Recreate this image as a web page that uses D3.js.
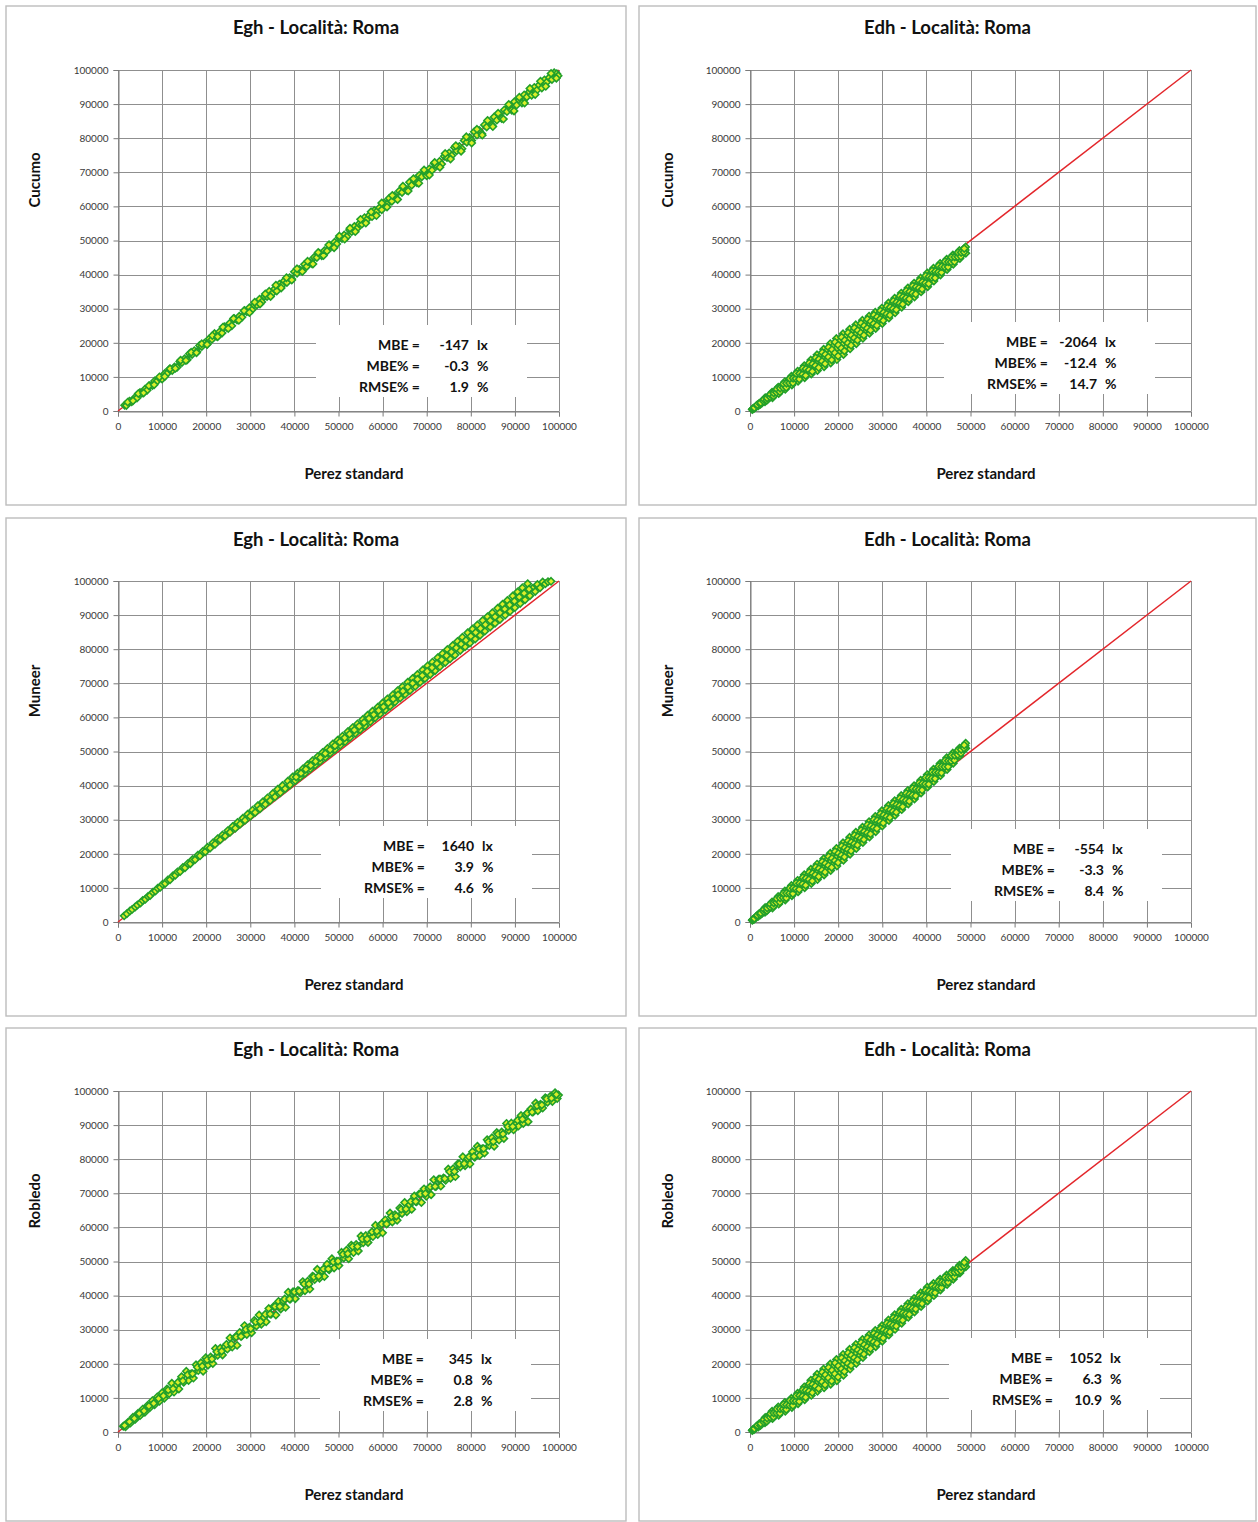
<!DOCTYPE html>
<html>
<head>
<meta charset="utf-8">
<script src="https://cdn.jsdelivr.net/npm/d3@7"></script>
<style>
    body { margin: 0; background: #fff; }
    svg text { font-family: Lato, "Open Sans", sans-serif; }
    .tick text { fill: #3a3a3a; font-size: 10px; }
    .plot-title { font-size: 18.5px; font-weight: bold; fill: #111; }
    .axis-title { font-size: 15px; font-weight: bold; fill: #111; }
    .stat { font-size: 14px; font-weight: bold; fill: #111; }
</style>
</head>
<body>
<svg id="chart" width="1258" height="1522"></svg>
<script>
const columnTitles = ["Egh - Località: Roma", "Edh - Località: Roma"];
const modelNames = ["Cucumo", "Muneer", "Robledo"];
const xAxisTitle = "Perez standard";
const tickValues = [0, 10000, 20000, 30000, 40000, 50000, 60000, 70000, 80000, 90000, 100000];
const statLabels = ["MBE =", "MBE% =", "RMSE% ="];
const statUnits = ["lx", "%", "%"];
const statValues = [
    ["-147", "-0.3", "1.9"],
    ["-2064", "-12.4", "14.7"],
    ["1640", "3.9", "4.6"],
    ["-554", "-3.3", "8.4"],
    ["345", "0.8", "2.8"],
    ["1052", "6.3", "10.9"]
];

// [Perez standard, model] in lx
const eghCucumo = [[1500,1700],[1900,1600],[2600,2900],[3100,2700],[3800,3900],[4300,3800],[5000,5400],[5400,5200],[6100,6400],[6600,6100],[7200,7400],[7800,7500],[8300,8800],[8900,8800],[9400,9700],[10000,9400],[10600,11000],[11100,10900],[11700,12300],[12300,11900],[12800,12900],[13400,12800],[14000,14500],[14500,14200],[15100,15300],[15700,15000],[16200,16800],[16800,16600],[17300,17700],[17900,17400],[18500,19200],[19000,18900],[19600,19900],[20200,19600],[20700,21200],[21300,21000],[21900,22700],[22400,21900],[23000,23200],[23600,22900],[24100,24700],[24700,24500],[25300,25700],[25800,25000],[26400,27100],[27000,26700],[27500,27800],[28100,27500],[28700,29500],[29200,29100],[29800,30300],[30400,29700],[30900,31100],[31500,31100],[32100,32800],[32600,32000],[33200,33600],[33800,33600],[34300,35100],[34900,34400],[35500,35800],[36000,35200],[36600,37200],[37200,36900],[37700,38200],[38300,37700],[38900,39100],[39400,38700],[40000,40800],[40600,40400],[41100,41500],[41700,41100],[42300,43000],[42800,42400],[43400,43700],[44000,43200],[44500,45100],[45100,45000],[45700,46200],[46200,45500],[46800,47000],[47400,46900],[47900,48700],[48500,48200],[49100,49500],[49600,49000],[50200,50900],[50800,50600],[51300,51600],[51900,51100],[52500,53100],[53000,52600],[53600,54100],[54200,53500],[54700,54900],[55300,54800],[55900,56700],[56400,56100],[57000,57400],[57600,57000],[58100,58800],[58700,58500],[59300,59600],[59800,59000],[60400,61000],[61000,60600],[61500,62400],[62100,61500],[62700,63100],[63200,62300],[63800,64500],[64400,64100],[64900,65400],[65500,64700],[66100,67100],[66600,66200],[67200,67500],[67800,66900],[68300,69100],[68900,68700],[69500,70100],[70000,69000],[70600,71000],[71200,70600],[71700,72600],[72300,71900],[72900,73200],[73400,72400],[74000,74700],[74600,74300],[75100,75700],[75700,74900],[76300,77300],[76800,76300],[77400,77600],[78000,76900],[78500,79300],[79100,78800],[79700,80200],[80200,79300],[80800,81900],[81400,80900],[81900,82300],[82500,81300],[83100,83900],[83600,83300],[84200,84800],[84800,83800],[85300,86200],[85900,85300],[86500,86800],[87000,85800],[87600,88300],[88200,87800],[88700,89200],[89300,88200],[89900,90700],[90400,89700],[91000,91200],[91600,90300],[92100,92700],[92700,92100],[93300,93600],[93800,92600],[94400,94900],[95000,94100],[95500,95600],[96100,94700],[96700,97100],[97200,96400],[97800,97800],[98400,97200],[98900,99200],[99500,98900],[99800,98300],
    [2200,2600],[3400,3000],[4600,5100],[5800,5300],[7000,7400],[8200,7700],[9400,10000],[10600,10100],[11800,12400],[13000,12500],[14200,14900],[15400,14800],[16600,17200],[17800,17100],[19000,19700],[20200,19500],[21400,22100],[22600,21800],[23800,24600],[25000,24200],[26200,27100],[27400,26600],[28600,29400],[29800,28900],[31000,31900],[32200,31400],[33400,34300],[34600,33600],[35800,36900],[37000,36100],[38200,39100],[39400,38400],[40600,41700],[41800,40900],[43000,43900],[44200,43100],[45400,46500],[46600,45600],[47800,48700],[49000,47900],[50200,51300],[51400,50400],[52600,53600],[53800,52600],[55000,56200],[56200,55100],[57400,58400],[58600,57300],[59800,61000],[61000,59800],[62200,63200],[63400,62000],[64600,65900],[65800,64500],[67000,68100],[68200,66800],[69400,70700],[70600,69200],[71800,72900],[73000,71500],[74200,75500],[75400,73900],[76600,77800],[77800,76200],[79000,80400],[80200,78600],[81400,82600],[82600,80900],[83800,85200],[85000,83400],[86200,87300],[87400,85600],[88600,89900],[89800,88000],[91000,92000],[92200,90300],[93400,94600],[94600,92800],[95800,96700],[97000,95200],[98200,99000],[99400,97600]];

const edhCucumo = [[500,470],[600,580],[700,690],[1250,1120],[1350,1380],[1900,1560],[2000,1920],[2100,2280],[2750,2400],[2850,2950],[3400,2730],[3550,3320],[3450,3910],[4150,3580],[4250,4350],[5100,3890],[4950,4700],[5000,5510],[5650,4880],[5750,5870],[6500,5090],[6350,6050],[6400,7000],[7150,6230],[7250,7400],[8000,6360],[7850,7490],[7900,8610],[8550,7490],[8650,8820],[9500,7640],[9350,8930],[9400,10210],[10050,8830],[10150,10350],[10900,8710],[10750,10200],[10800,11690],[11550,10000],[11650,11820],[12400,9760],[12250,11520],[12300,13280],[12950,11110],[13050,13210],[13900,10870],[13750,12900],[13800,14930],[14450,12340],[14550,14740],[15300,11890],[15150,14180],[15200,16470],[15950,13570],[16050,16270],[16800,13000],[16650,15560],[16700,18120],[17350,14720],[17450,17700],[18300,14090],[18150,16920],[18200,19750],[18850,15890],[18950,19170],[19700,15070],[19550,18150],[19600,21230],[20350,17180],[20450,20630],[21200,16570],[21050,19600],[21100,22630],[21750,18660],[21850,21940],[22700,18230],[22550,21100],[22600,23970],[23250,20230],[23350,23370],[24100,19730],[23950,22500],[24000,25270],[24750,21790],[24850,24810],[25600,21300],[25450,23950],[25500,26600],[26150,23140],[26250,26020],[27100,22780],[26950,25300],[27000,27820],[27650,24570],[27750,27300],[28500,24170],[28350,26560],[28400,28950],[29150,25990],[29250,28570],[30000,25650],[29850,27910],[29900,30170],[30550,27390],[30650,29860],[31500,27250],[31350,29460],[31400,31660],[32050,28980],[32150,31390],[32900,28780],[32750,30920],[32800,33060],[33550,30600],[33650,32930],[34400,30450],[34250,32510],[34300,34570],[34950,32130],[35050,34380],[35900,32030],[35750,34050],[35800,36080],[36450,33630],[36550,35880],[37300,33430],[37150,35450],[37200,37480],[37950,35130],[38050,37380],[38800,34930],[38650,36950],[38700,38980],[39350,36530],[39450,38780],[40300,36460],[40150,38470],[40200,40480],[40850,38160],[40950,40320],[41700,38130],[41550,40010],[41600,41890],[42350,39890],[42450,41900],[43200,39860],[43050,41580],[43100,43290],[43750,41360],[43850,43150],[44700,41520],[44550,43020],[44600,44510],[45250,42920],[45350,44490],[46100,43050],[45950,44400],[46000,45750],[46750,44490],[46850,45910],[47600,44710],[47450,45880],[47500,47050],[48150,45960],[48250,47120],[48950,46290],[48800,47210],[48900,48130],
    [920,780],[980,960],[1620,1510],[1680,1820],[2370,1970],[2430,2410],[3120,2850],[3180,3420],[3820,3140],[3880,3820],[4570,4130],[4630,4920],[5320,4380],[5380,5260],[6020,5460],[6080,6430],[6770,5650],[6830,6700],[7520,6860],[7580,7990],[8220,6920],[8280,8130],[8970,8210],[9030,9510],[9720,8230],[9780,9610],[10420,9510],[10480,11010],[11170,9340],[11230,10970],[11920,10760],[11980,12540],[12620,10420],[12680,12330],[13370,12010],[13430,14060],[14120,11590],[14180,13780],[14820,13270],[14880,15590],[15570,12720],[15630,15180],[16320,14580],[16380,17180],[17020,13850],[17080,16580],[17770,15830],[17830,18710],[18520,14980],[18580,18000],[19220,17040],[19280,20190],[19970,16120],[20030,19350],[20720,18430],[20780,21640],[21420,17620],[21480,20750],[22170,19920],[22230,22970],[22920,19240],[22980,22210],[23620,21400],[23680,24330],[24370,20770],[24430,23630],[25120,22910],[25180,25720],[25820,22230],[25880,24970],[26570,24260],[26630,26930],[27320,23680],[27380,26280],[28020,25600],[28080,28130],[28770,25090],[28830,27550],[29520,26980],[29580,29380],[30220,26520],[30280,28870],[30970,28450],[31030,30760],[31720,28120],[31780,30400],[32420,29980],[32480,32230],[33170,29690],[33230,31910],[33920,31580],[33980,33760],[34620,31290],[34680,33430],[35370,33110],[35430,35230],[36120,32830],[36180,34940],[36820,34560],[36880,36680],[37570,34280],[37630,36390],[38320,36060],[38380,38180],[39020,35730],[39080,37840],[39770,37520],[39830,39630],[40520,37320],[40580,39380],[41220,39120],[41280,41110],[41970,39020],[42030,40940],[42720,40760],[42780,42600],[43420,40620],[43480,42360],[44170,42220],[44230,43840],[44920,42230],[44980,43750],[45620,43680],[45680,45130],[46370,43780],[46430,45150],[47120,45210],[47180,46490],[47820,45350],[47880,46510],[48520,46610],[48580,47640]];

const eghMuneer = [[1400,1800],[2000,2400],[2700,3200],[3200,3700],[3900,4400],[4400,5000],[5100,5600],[5600,6300],[6200,6700],[6800,7500],[7300,7800],[7900,8700],[8500,9100],[9000,9900],[9600,10200],[10100,11100],[10700,11300],[11300,12300],[11800,12400],[12400,13500],[13000,13700],[13500,14700],[14100,14800],[14700,16000],[15200,15900],[15800,17100],[16400,17100],[16900,18300],[17500,18300],[18100,19600],[18600,19400],[19200,20700],[19800,20600],[20300,21900],[20900,21700],[21500,23200],[22000,22800],[22600,24400],[23200,24100],[23700,25500],[24300,25200],[24900,26800],[25400,26300],[26000,28000],[26600,27500],[27100,29200],[27700,28700],[28300,30400],[28800,29800],[29400,31600],[30000,31000],[30500,32800],[31100,32100],[31700,34100],[32200,33200],[32800,35200],[33400,34500],[33900,36400],[34500,35600],[35100,37700],[35600,36700],[36200,38900],[36800,37900],[37300,40000],[37900,39100],[38500,41300],[39000,40200],[39600,42500],[40200,41400],[40700,43600],[41300,42500],[41900,44900],[42400,43600],[43000,46100],[43600,44900],[44100,47300],[44700,46000],[45300,48500],[45800,47100],[46400,49700],[47000,48300],[47500,50900],[48100,49500],[48700,52200],[49200,50600],[49800,53300],[50400,51800],[50900,54500],[51500,52900],[52100,55800],[52600,54100],[53200,57000],[53800,55300],[54300,58100],[54900,56400],[55500,59400],[56000,57500],[56600,60600],[57200,58700],[57700,61800],[58300,59900],[58900,63000],[59400,61000],[60000,64200],[60600,62200],[61100,65400],[61700,63300],[62300,66600],[62800,64500],[63400,67800],[64000,65700],[64500,69000],[65100,66800],[65700,70300],[66200,67900],[66800,71400],[67400,69100],[67900,72600],[68500,70300],[69100,73900],[69600,71400],[70200,75100],[70800,72600],[71300,76200],[71900,73700],[72500,77500],[73000,74900],[73600,78700],[74200,76100],[74700,79900],[75300,77200],[75900,81100],[76400,78300],[77000,82300],[77600,79600],[78100,83500],[78700,80700],[79300,84800],[79800,81800],[80400,85900],[81000,83000],[81500,87100],[82100,84100],[82700,88400],[83200,85300],[83800,89500],[84400,86500],[84900,90700],[85500,87600],[86100,92000],[86600,88700],[87200,93200],[87800,90000],[88300,94300],[88900,91100],[89500,95600],[90000,92200],[90600,96800],[91200,93400],[91700,98000],[92300,94500],[92900,99200],[93400,95700],[94000,97800],[94600,96900],[95100,99000],[95700,98000],[96300,99700],[96900,99200],[97500,99800],[98200,99900],
    [40400,42500],[41500,43600],[42600,44800],[43700,45900],[44800,47100],[45900,48200],[47000,49400],[48100,50500],[49200,51700],[50300,52800],[51400,54000],[52500,55100],[53600,56300],[54700,57400],[55800,58500],[56900,59700],[58000,60800],[59100,62000],[60200,63100],[61300,64300],[62400,65400],[63500,66600],[64600,67700],[65700,68900],[66800,70000],[67900,71200],[69000,72300],[70100,73500],[71200,74600],[72300,75800],[73400,76900],[74500,78100],[75600,79200],[76700,80400],[77800,81500],[78900,82600],[80000,83800],[81100,84900],[82200,86100],[83300,87200],[84400,88400],[85500,89500],[86600,90700],[87700,91800],[88800,93000],[89900,94100],[91000,95300],[92100,96400],[93200,97600]];

const edhMuneer = [[500,490],[600,630],[700,760],[1250,1200],[1350,1510],[1900,1650],[2000,2080],[2100,2510],[2750,2570],[2850,3220],[3400,2880],[3550,3560],[3450,4240],[4150,3800],[4250,4670],[5100,4100],[4950,5000],[5000,5900],[5650,5120],[5750,6230],[6500,5240],[6350,6350],[6400,7450],[7150,6440],[7250,7790],[8000,6470],[7850,7780],[7900,9090],[8550,7660],[8650,9210],[9500,7690],[9350,9190],[9400,10690],[10050,8960],[10150,10730],[10900,8830],[10750,10520],[10800,12210],[11550,10280],[11650,12290],[12400,10050],[12250,11960],[12300,13870],[12950,11510],[13050,13730],[13900,11270],[13750,13370],[13800,15470],[14450,12820],[14550,15250],[15300,12430],[15150,14700],[15200,16970],[15950,14180],[16050,16780],[16800,13770],[16650,16170],[16700,18570],[17350,15480],[17450,18220],[18300,15120],[18150,17640],[18200,20150],[18850,16910],[18950,19740],[19700,16420],[19550,19000],[19600,21590],[20350,18420],[20450,21290],[21200,18100],[21050,20660],[21100,23210],[21750,20060],[21850,22850],[22700,19890],[22550,22360],[22600,24830],[23250,21800],[23350,24480],[24100,21570],[23950,23950],[24000,26340],[24750,23520],[24850,26040],[25600,23290],[25450,25540],[25500,27790],[26150,25050],[26250,27550],[27100,24910],[26950,27160],[27000,29410],[27650,26670],[27750,29170],[28500,26460],[28350,28710],[28400,30960],[29150,28350],[29250,30850],[30000,28140],[29850,30390],[29900,32640],[30550,29890],[30650,32360],[31500,29750],[31350,31960],[31400,34160],[32050,31480],[32150,33890],[32900,31280],[32750,33420],[32800,35560],[33550,33100],[33650,35430],[34400,32950],[34250,35010],[34300,37070],[34950,34630],[35050,36880],[35900,34580],[35750,36580],[35800,38580],[36450,36220],[36550,38400],[37300,36100],[37150,38040],[37200,39980],[37950,37860],[38050,39980],[38800,37850],[38650,39720],[38700,41590],[39350,39500],[39450,41530],[40300,39620],[40150,41420],[40200,43220],[40850,41210],[40950,43210],[41700,41190],[41550,42990],[41600,44790],[42350,42890],[42450,44890],[43200,42920],[43050,44700],[43100,46470],[43750,44540],[43850,46490],[44700,44710],[44550,46440],[44600,48160],[45250,46330],[45350,48160],[46100,46570],[45950,48050],[46000,49540],[46750,48250],[46850,49700],[47600,48730],[47450,49850],[47500,50980],[48150,50240],[48250,51280],[48950,50920],[48800,51670],[48900,52420],
    [920,830],[980,1040],[1620,1620],[1680,1990],[2370,2090],[2430,2620],[3120,3060],[3180,3720],[3820,3320],[3880,4090],[4570,4390],[4630,5270],[5320,4600],[5380,5590],[6020,5730],[6080,6820],[6770,5830],[6830,7040],[7520,7110],[7580,8420],[8220,7050],[8280,8470],[8970,8420],[9030,9940],[9720,8310],[9780,9930],[10420,9740],[10480,11460],[11170,9540],[11230,11370],[11920,11130],[11980,13070],[12620,10770],[12680,12810],[13370,12450],[13430,14590],[14120,12030],[14180,14270],[14820,13770],[14880,16100],[15570,13300],[15630,15700],[16320,15190],[16380,17670],[17020,14620],[17080,17160],[17770,16580],[17830,19180],[18520,16010],[18580,18660],[19220,17980],[19280,20660],[19970,17420],[20030,20120],[20720,19570],[20780,22250],[21420,19080],[21480,21730],[22170,21240],[22230,23840],[22920,20850],[22980,23400],[23620,22910],[23680,25410],[24370,22560],[24430,24990],[25120,24560],[25180,26920],[25820,24170],[25880,26520],[26570,26130],[26630,28480],[27320,25790],[27380,28140],[28020,27720],[28080,30070],[28770,27410],[28830,29760],[29520,29400],[29580,31750],[30220,29020],[30280,31360],[30970,30950],[31030,33260],[31720,30620],[31780,32900],[32420,32480],[32480,34730],[33170,32190],[33230,34410],[33920,34080],[33980,36260],[34620,33790],[34680,35920],[35370,35630],[35430,37730],[36120,35400],[36180,37470],[36820,37150],[36880,39200],[37570,36980],[37630,38990],[38320,38820],[38380,40790],[39020,38680],[39080,40610],[39770,40480],[39830,42380],[40520,40420],[40580,42300],[41220,42120],[41280,44000],[41970,42040],[42030,43920],[42720,43820],[42780,45680],[43420,43730],[43480,45570],[44170,45510],[44230,47330],[44920,45530],[44980,47290],[45620,47230],[45680,48860],[46370,47430],[46430,48880],[47120,49090],[47180,50360],[47820,49500],[47880,50580],[48520,50990],[48580,51870]];

const eghRobledo = [[1200,1700],[1700,1500],[2300,2900],[2800,2600],[3400,4300],[3900,3700],[4500,5400],[5000,4800],[5600,6700],[6100,5800],[6700,7800],[7200,7100],[7800,9200],[8300,8000],[8900,10300],[9400,9000],[10000,11500],[10500,9900],[11100,12600],[11600,11200],[12200,14300],[12700,11700],[13300,13800],[13800,12600],[14400,16200],[14900,14600],[15500,17800],[16000,15100],[16600,17100],[17100,15800],[17700,19700],[18200,18000],[18800,20300],[19300,17800],[19900,21800],[20400,19600],[21000,22000],[21500,20100],[22100,24500],[22600,22500],[23200,24600],[23700,22600],[24300,25000],[24800,24300],[25400,27600],[25900,24900],[26500,27700],[27000,25400],[27600,29200],[28100,28200],[28700,31200],[29200,28600],[29800,30700],[30300,29100],[30900,32700],[31400,31100],[32000,34300],[32500,31600],[33100,33600],[33600,32300],[34200,36200],[34700,34500],[35300,36800],[35800,34300],[36400,38300],[36900,36100],[37500,38500],[38000,36600],[38600,41000],[39100,39000],[39700,41100],[40200,39100],[40800,41500],[41300,40800],[41900,44100],[42400,41400],[43000,44200],[43500,41900],[44100,45700],[44600,44700],[45200,47700],[45700,45100],[46300,47200],[46800,45600],[47400,49200],[47900,47600],[48500,50800],[49000,48100],[49600,50100],[50100,48800],[50700,52700],[51200,51000],[51800,53300],[52300,50800],[52900,54800],[53400,52600],[54000,55000],[54500,53100],[55100,57500],[55600,55500],[56200,57600],[56700,55600],[57300,58000],[57800,57300],[58400,60600],[58900,57900],[59500,60700],[60000,58400],[60600,62200],[61100,61200],[61700,64200],[62200,61600],[62800,63700],[63300,62100],[63900,65700],[64400,64100],[65000,67300],[65500,64600],[66100,66600],[66600,65300],[67200,69200],[67700,67500],[68300,69800],[68800,67300],[69400,71300],[69900,69100],[70500,71500],[71000,69600],[71600,74000],[72100,72000],[72700,74100],[73200,72100],[73800,74500],[74300,73800],[74900,77100],[75400,74400],[76000,77200],[76500,74900],[77100,78700],[77600,77700],[78200,80700],[78700,78100],[79300,80200],[79800,78600],[80400,82200],[80900,80600],[81500,83800],[82000,81100],[82600,83100],[83100,81800],[83700,85700],[84200,84000],[84800,86300],[85300,83800],[85900,87800],[86400,85600],[87000,88000],[87500,86100],[88100,90500],[88600,88500],[89200,90600],[89700,88600],[90300,90400],[90800,89700],[91400,92800],[91900,90500],[92500,93100],[93000,91000],[93600,94700],[94100,93800],[94700,96500],[95200,94200],[95800,96100],[96300,95000],[96900,98000],[97400,96700],[98000,98400],[98500,96900],[99100,99500],[99600,97800],[99900,98800],
    [1500,1900],[2600,3000],[3700,4000],[4800,5400],[5900,6200],[7000,7600],[8100,8400],[9200,9800],[10300,10600],[11400,12300],[12500,12700],[13600,14600],[14700,15000],[15800,16800],[16900,17100],[18000,19000],[19100,19300],[20200,21200],[21300,21400],[22400,23500],[23500,23700],[24600,25700],[25700,25800],[26800,27900],[27900,28000],[29000,30100],[30100,30300],[31200,32300],[32300,32400],[33400,34500],[34500,34600],[35600,36800],[36700,36800],[37800,39000],[38900,39000],[40000,41100],[41100,41300],[42200,43400],[43300,43400],[44400,45500],[45500,45700],[46600,47800],[47700,47800],[48800,49900],[49900,50100],[51000,52100],[52100,52300],[53200,54400],[54300,54400],[55400,56600],[56500,56600],[57600,58700],[58700,58900],[59800,61000],[60900,61000],[62000,63200],[63100,63300],[64200,65300],[65300,65400],[66400,67600],[67500,67600],[68600,69800],[69700,69900],[70800,71900],[71900,72000],[73000,74200],[74100,74300],[75200,76300],[76300,76400],[77400,78600],[78500,78700],[79600,80700],[80700,80800],[81800,83000],[82900,83100],[84000,85100],[85100,85200],[86200,87300],[87300,87400],[88400,89500],[89500,89600],[90600,91400],[91700,91700],[92800,93500],[93900,93800],[95000,95700],[96100,95900],[97200,97700],[98300,97900],[99400,99000]];

const edhRobledo = [[500,450],[600,590],[700,730],[1250,1110],[1350,1440],[1900,1490],[2000,1960],[2100,2430],[2750,2400],[2850,3110],[3400,2690],[3550,3470],[3450,4250],[4150,3670],[4250,4700],[5100,3920],[4950,5000],[5000,6080],[5650,4940],[5750,6210],[6500,4940],[6350,6150],[6400,7360],[7150,6090],[7250,7510],[8000,6050],[7850,7360],[7900,8670],[8550,7180],[8650,8650],[9500,7190],[9350,8530],[9400,9870],[10050,8340],[10150,9870],[10900,8280],[10750,9820],[10800,11350],[11550,9680],[11650,11590],[12400,9460],[12250,11350],[12300,13230],[12950,10960],[13050,13220],[13900,10740],[13750,12960],[13800,15170],[14450,12400],[14550,15030],[15300,11920],[15150,14430],[15200,16930],[15950,13650],[16050,16580],[16800,12970],[16650,15720],[16700,18460],[17350,14720],[17450,17910],[18300,14030],[18150,16990],[18200,19940],[18850,15890],[18950,19260],[19700,15060],[19550,18170],[19600,21270],[20350,17210],[20450,20670],[21200,16660],[21050,19710],[21100,22760],[21750,18820],[21850,22140],[22700,18440],[22550,21340],[22600,24240],[23250,20540],[23350,23700],[24100,20110],[23950,22900],[24000,25690],[24750,22260],[24850,25260],[25600,21850],[25450,24500],[25500,27150],[26150,23770],[26250,26630],[27100,23520],[26950,26000],[27000,28480],[27650,25360],[27750,28040],[28500,25030],[28350,27400],[28400,29770],[29150,26920],[29250,29480],[30000,26640],[29850,28900],[29900,31160],[30550,28460],[30650,30930],[31500,28420],[31350,30630],[31400,32830],[32050,30230],[32150,32640],[32900,30100],[32750,32240],[32800,34380],[33550,31990],[33650,34320],[34400,31890],[34250,33950],[34300,36010],[34950,33630],[35050,35880],[35900,33620],[35750,35630],[35800,37640],[36450,35290],[36550,37510],[37300,35180],[37150,37170],[37200,39160],[37950,36950],[38050,39150],[38800,36820],[38650,38820],[38700,40820],[39350,38470],[39450,40710],[40300,38440],[40150,40440],[40200,42440],[40850,40060],[40950,42170],[41700,39990],[41550,41790],[41600,43580],[42350,41620],[42450,43490],[43200,41630],[43050,43220],[43100,44800],[43750,43040],[43850,44710],[44700,43230],[44550,44630],[44600,46020],[45250,44590],[45350,46060],[46100,44790],[45950,46080],[46000,47360],[46750,46250],[46850,47620],[47600,46610],[47450,47740],[47500,48870],[48150,47990],[48250,49130],[48950,48470],[48800,49390],[48900,50300],
    [920,760],[980,990],[1620,1520],[1680,1920],[2370,1930],[2430,2510],[3120,2920],[3180,3670],[3820,3160],[3880,4060],[4570,4330],[4630,5370],[5320,4420],[5380,5580],[6020,5550],[6080,6770],[6770,5510],[6830,6810],[7520,6730],[7580,8090],[8220,6610],[8280,7990],[8970,7870],[9030,9260],[9720,7760],[9780,9180],[10420,9070],[10480,10590],[11170,8960],[11230,10660],[11920,10510],[11980,12390],[12620,10190],[12680,12240],[13370,11950],[13430,14180],[14120,11550],[14180,13940],[14820,13420],[14880,15960],[15570,12770],[15630,15450],[16320,14690],[16380,17510],[17020,13830],[17080,16760],[17770,15870],[17830,18920],[18520,14950],[18580,18080],[19220,17050],[19280,20260],[19970,16130],[20030,19380],[20720,18500],[20780,21720],[21420,17750],[21480,20900],[22170,20130],[22230,23200],[22920,19500],[22980,22500],[23620,21760],[23680,24700],[24370,21200],[24430,24060],[25120,23420],[25180,26210],[25820,22820],[25880,25550],[26570,24930],[26630,27570],[27320,24450],[27380,27000],[28020,26410],[28080,28910],[28770,25980],[28830,28420],[29520,27940],[29580,30330],[30220,27550],[30280,29900],[30970,29570],[31030,31880],[31720,29330],[31780,31610],[32420,31260],[32480,33520],[33170,31050],[33230,33260],[33920,33000],[33980,35170],[34620,32760],[34680,34900],[35370,34650],[35430,36760],[36120,34460],[36180,36550],[36820,36250],[36880,38340],[37570,36060],[37630,38140],[38320,37900],[38380,39990],[39020,37640],[39080,39740],[39770,39480],[39830,41580],[40520,39260],[40580,41300],[41220,40960],[41280,42890],[41970,40820],[42030,42630],[42720,42450],[42780,44160],[43420,42340],[43480,43960],[44170,43860],[44230,45380],[44920,43920],[44980,45340],[45620,45350],[45680,46720],[46370,45530],[46430,46840],[47120,47020],[47180,48260],[47820,47310],[47880,48440],[48520,48710],[48580,49730]];

const panelPoints = [eghCucumo, edhCucumo, eghMuneer, edhMuneer, eghRobledo, edhRobledo];

// layout (pixels)
const frameX = [6, 639], frameW = [620, 617];
const frameY = [6, 518, 1028], frameH = [499, 498, 493];
const plotLeft = [118, 750], plotTop = [70, 581, 1091];
const plotW = 441, plotH = 341;
const statLabelEnd = [302, 298, 307, 305, 306, 303];
const statRowTop = [275, 272, 265, 268, 268, 267];

const svg = d3.select("#chart");
svg.append("rect").attr("width", 1258).attr("height", 1522).attr("fill", "#fff");

class ScatterPanel {
    constructor(index, points, stats, title, yTitle) {
        this.index = index;
        this.row = Math.floor(index / 2);
        this.col = index % 2;
        this.points = points;
        this.stats = stats;
        this.title = title;
        this.yTitle = yTitle;
        this.createScale();
        this.render();
    }

    createScale() {
        this.scale = {
            x: d3.scaleLinear().domain([0, 100000]).range([0, plotW]),
            y: d3.scaleLinear().domain([0, 100000]).range([plotH, 0])
        };
    }

    render() {
        const scale = this.scale;
        const fx = frameX[this.col], fy = frameY[this.row];
        const px = plotLeft[this.col], py = plotTop[this.row];

        svg.append("rect")
            .attr("x", fx).attr("y", fy)
            .attr("width", frameW[this.col]).attr("height", frameH[this.row])
            .attr("fill", "#fff")
            .attr("stroke", "#bdbdbd")
            .attr("stroke-width", 1.4);

        svg.append("text")
            .attr("class", "plot-title")
            .attr("x", fx + frameW[this.col] / 2)
            .attr("y", fy + 22)
            .attr("dy", "0.35em")
            .attr("text-anchor", "middle")
            .text(this.title);

        const g = svg.append("g").attr("transform", `translate(${px},${py})`);

        // grid
        g.append("g").selectAll("line")
            .data(tickValues)
            .join("line")
            .attr("x1", d => Math.round(scale.x(d)) + 0.5)
            .attr("x2", d => Math.round(scale.x(d)) + 0.5)
            .attr("y1", 0)
            .attr("y2", plotH)
            .attr("stroke", "#8f8f8f");
        g.append("g").selectAll("line")
            .data(tickValues)
            .join("line")
            .attr("x1", 0)
            .attr("x2", plotW)
            .attr("y1", d => Math.round(scale.y(d)) + 0.5)
            .attr("y2", d => Math.round(scale.y(d)) + 0.5)
            .attr("stroke", "#8f8f8f");

        // axes
        const xaxis = g.append("g")
            .attr("transform", `translate(0,${plotH + 0.5})`)
            .call(d3.axisBottom(scale.x).tickValues(tickValues).tickSize(5).tickPadding(6).tickFormat(d3.format("d")));
        const yaxis = g.append("g")
            .attr("transform", "translate(0.5,0)")
            .call(d3.axisLeft(scale.y).tickValues(tickValues).tickSize(5).tickPadding(5).tickFormat(d3.format("d")));
        [xaxis, yaxis].forEach(a => {
            a.select(".domain").attr("stroke", "#7a7a7a");
            a.selectAll(".tick line").attr("stroke", "#7a7a7a");
            a.selectAll("text").attr("font-family", "Lato, sans-serif");
        });

        // stats box over the grid
        const le = statLabelEnd[this.index], rt = statRowTop[this.index];
        g.append("rect")
            .attr("x", le - 104)
            .attr("y", rt - 20)
            .attr("width", 211)
            .attr("height", 72)
            .attr("fill", "#fff");

        // 1:1 line
        g.append("line")
            .attr("x1", scale.x(0)).attr("y1", scale.y(0))
            .attr("x2", scale.x(100000)).attr("y2", scale.y(100000))
            .attr("stroke", "#e3262b")
            .attr("stroke-width", 1.5);

        const r = 3.6;
        g.append("g").selectAll("path")
            .data(this.points)
            .join("path")
            .attr("d", `M0,${-r}L${r},0L0,${r}L${-r},0Z`)
            .attr("transform", d => `translate(${scale.x(d[0])},${scale.y(d[1])})`)
            .attr("fill", "#dcee2a")
            .attr("stroke", "#22a02a")
            .attr("stroke-width", 1.6);

        const stats = this.stats;
        statLabels.forEach((label, i) => {
            const y = rt + i * 21;
            g.append("text").attr("class", "stat")
                .attr("x", le).attr("y", y).attr("dy", "0.35em")
                .attr("text-anchor", "end").text(label);
            g.append("text").attr("class", "stat")
                .attr("x", le + 49).attr("y", y).attr("dy", "0.35em")
                .attr("text-anchor", "end").text(stats[i]);
            g.append("text").attr("class", "stat")
                .attr("x", le + 57).attr("y", y).attr("dy", "0.35em")
                .attr("text-anchor", "start").text(statUnits[i]);
        });

        // axis titles
        g.append("text")
            .attr("class", "axis-title")
            .attr("x", 236)
            .attr("y", plotH + 63)
            .attr("dy", "0.35em")
            .attr("text-anchor", "middle")
            .text(xAxisTitle);

        svg.append("text")
            .attr("class", "axis-title")
            .attr("transform", `translate(${fx + 29},${py + 110}) rotate(-90)`)
            .attr("dy", "0.35em")
            .attr("text-anchor", "middle")
            .text(this.yTitle);
    }
}

panelPoints.forEach((pts, i) => {
    new ScatterPanel(i, pts, statValues[i], columnTitles[i % 2], modelNames[Math.floor(i / 2)]);
});
</script>
</body>
</html>
